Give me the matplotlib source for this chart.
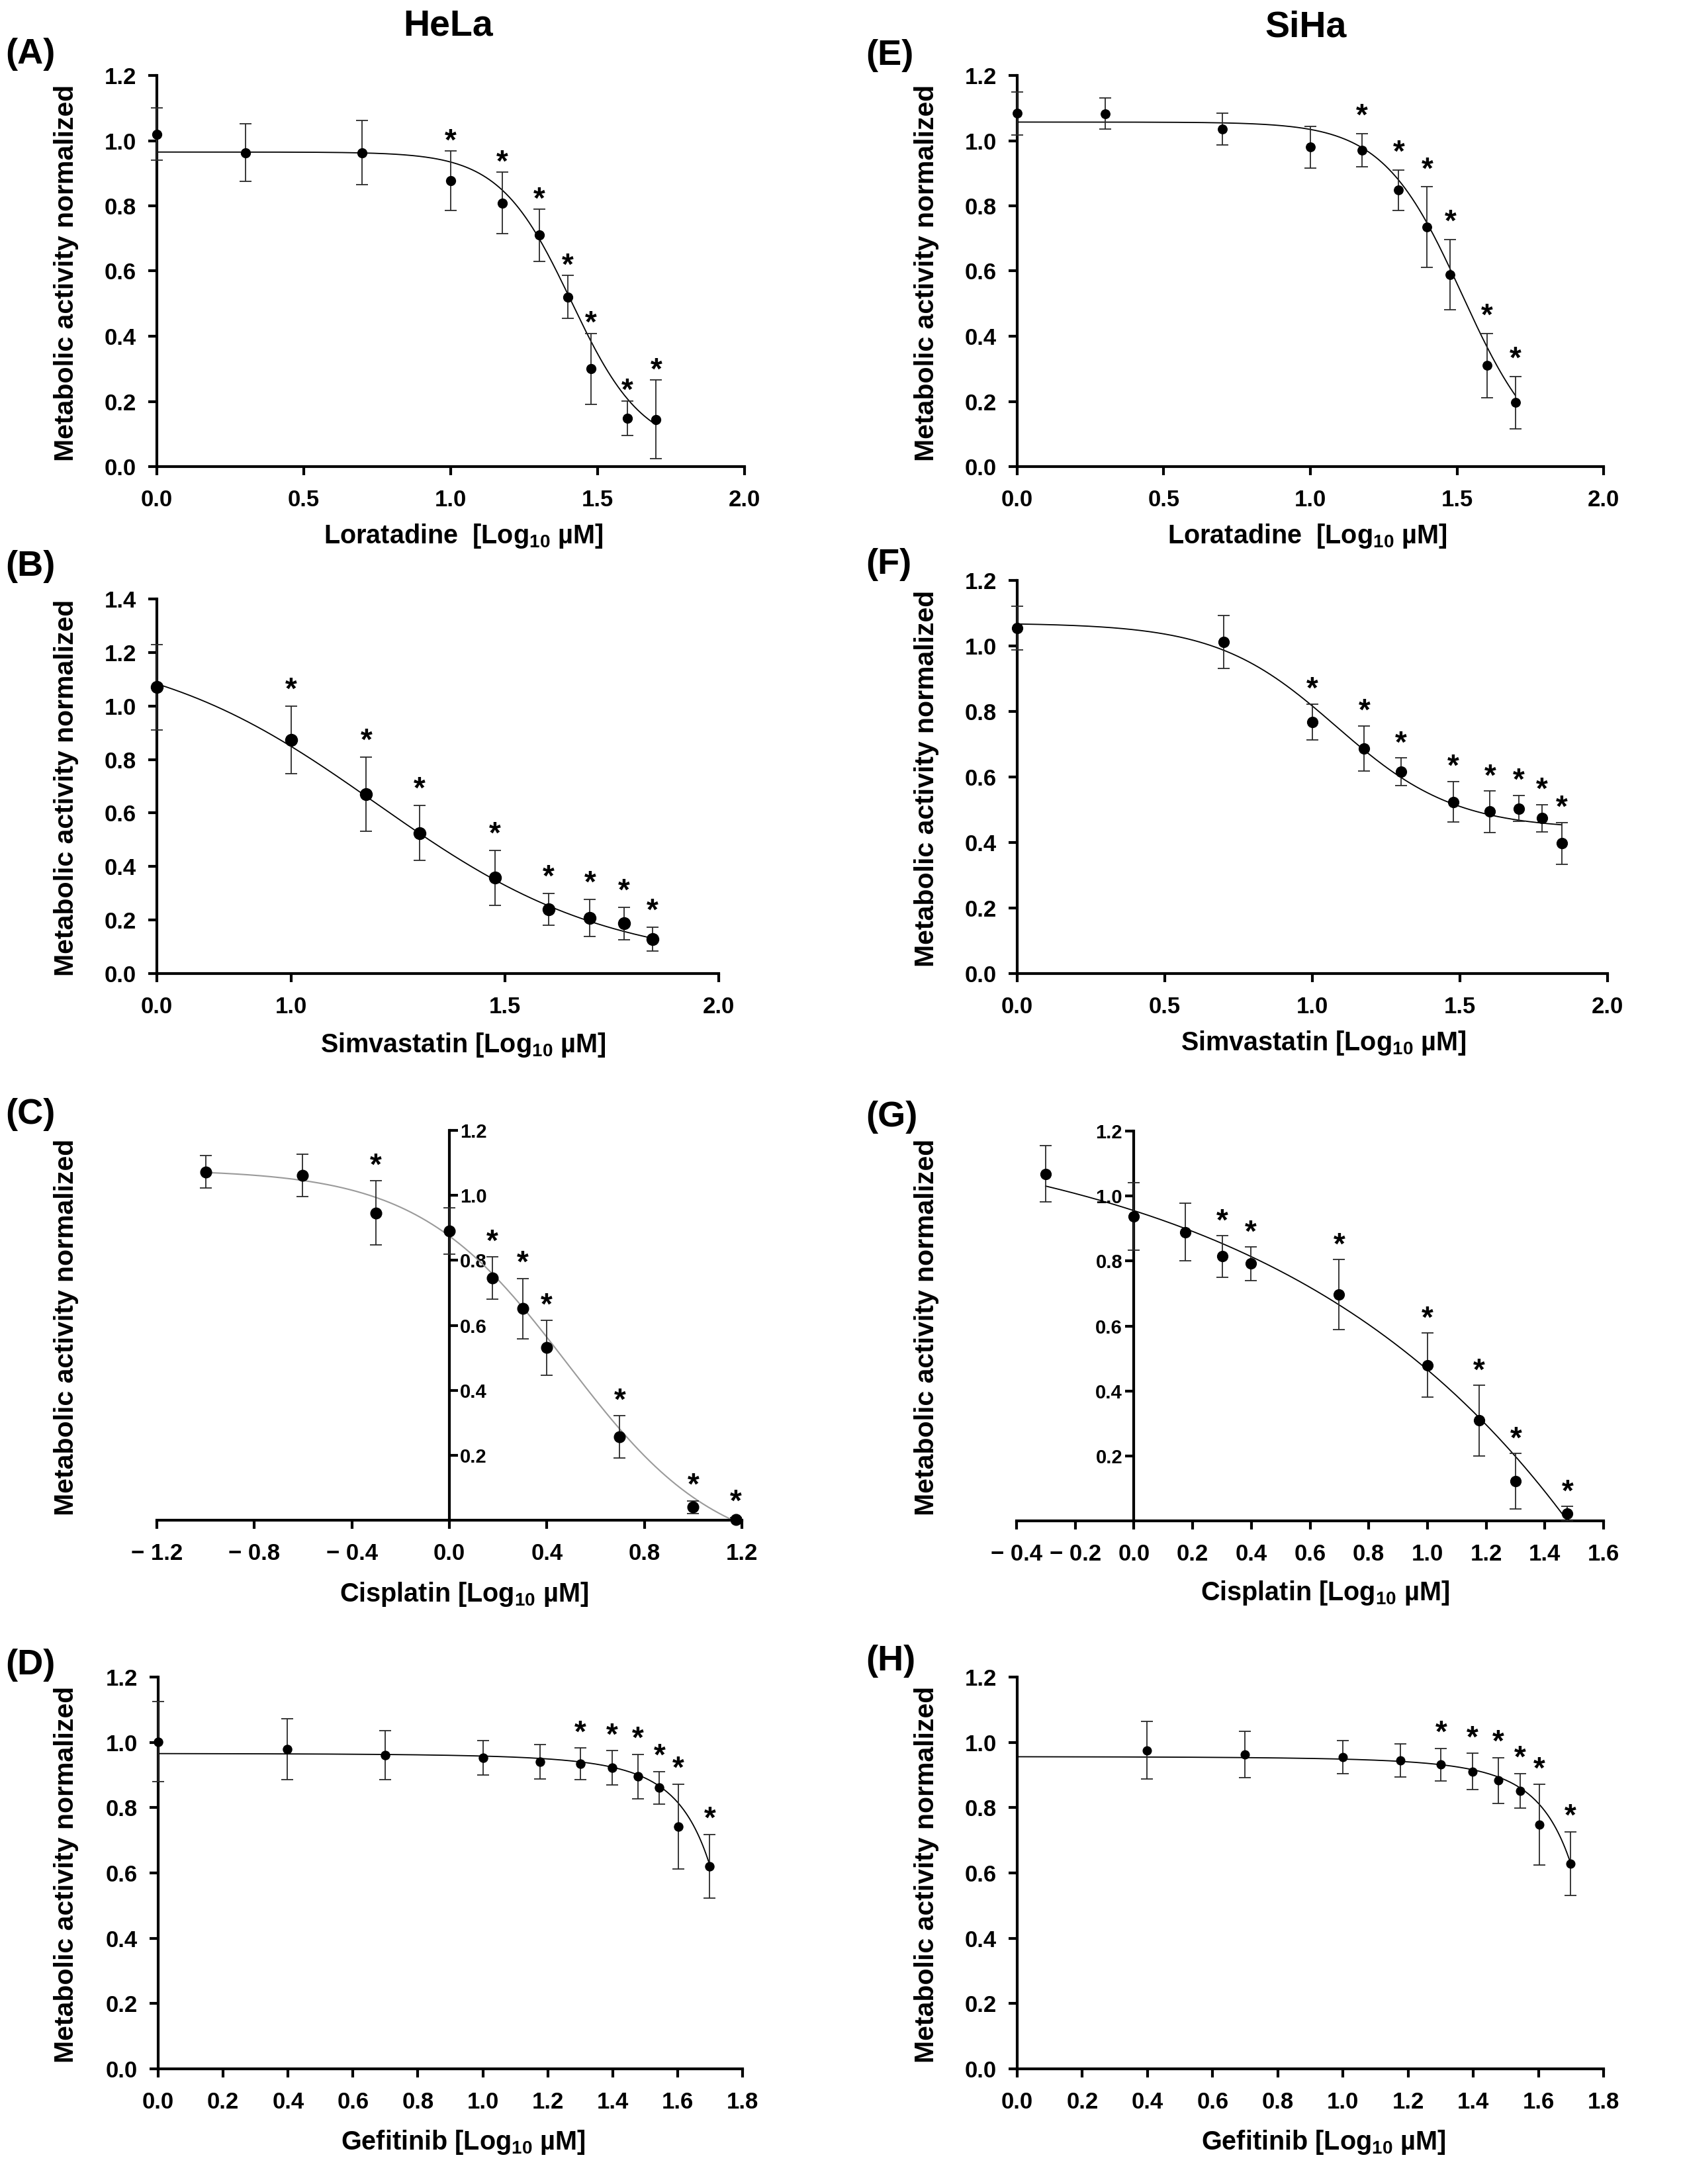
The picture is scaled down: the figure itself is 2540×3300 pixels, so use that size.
import numpy as np
import matplotlib
matplotlib.use("Agg")
import matplotlib.pyplot as plt
from matplotlib import font_manager as fm
from matplotlib.ticker import FixedLocator, FixedFormatter

# ---------------- data ----------------
# Loratadine (A: HeLa, E: SiHa)
lor_x = [0.0, 0.301, 0.699, 1.0, 1.176, 1.301, 1.398, 1.477, 1.602, 1.699]
A_y = [1.02, 0.963, 0.963, 0.877, 0.809, 0.71, 0.52, 0.30, 0.149, 0.145]
A_err = [0.08, 0.088, 0.098, 0.092, 0.095, 0.08, 0.066, 0.109, 0.053, 0.121]
A_star = [0, 0, 0, 1, 1, 1, 1, 1, 1, 1]
E_y = [1.084, 1.083, 1.035, 0.98, 0.971, 0.848, 0.735, 0.589, 0.31, 0.196]
E_err = [0.066, 0.047, 0.049, 0.064, 0.051, 0.062, 0.123, 0.107, 0.099, 0.081]
E_star = [0, 0, 0, 0, 1, 1, 1, 1, 1, 1]

# Simvastatin (B: HeLa, F: SiHa)
simB_x = [0.0, 1.0, 1.176, 1.301, 1.477, 1.602, 1.699, 1.778, 1.845]
B_y = [1.07, 0.873, 0.670, 0.525, 0.358, 0.240, 0.208, 0.187, 0.129]
B_err = [0.16, 0.127, 0.139, 0.103, 0.103, 0.06, 0.07, 0.06, 0.045]
B_star = [0, 1, 1, 1, 1, 1, 1, 1, 1]
simF_x = [0.0, 0.699, 1.0, 1.176, 1.301, 1.477, 1.602, 1.699, 1.778, 1.845]
F_y = [1.055, 1.012, 0.768, 0.687, 0.616, 0.524, 0.494, 0.504, 0.474, 0.397]
F_err = [0.067, 0.08, 0.055, 0.069, 0.042, 0.062, 0.063, 0.04, 0.041, 0.064]
F_star = [0, 0, 1, 1, 1, 1, 1, 1, 1, 1]

# Cisplatin (C: HeLa, G: SiHa)
cisC_x = [-1.0, -0.602, -0.301, 0.0, 0.176, 0.301, 0.398, 0.699, 1.0, 1.176]
C_y = [1.072, 1.061, 0.946, 0.89, 0.745, 0.651, 0.531, 0.257, 0.040, 0.003]
C_err = [0.05, 0.065, 0.099, 0.072, 0.065, 0.093, 0.084, 0.065, 0.02, 0.006]
C_star = [0, 0, 1, 0, 1, 1, 1, 1, 1, 1]
cisG_x = [-0.301, 0.0, 0.176, 0.301, 0.398, 0.699, 1.0, 1.176, 1.301, 1.477]
G_y = [1.068, 0.937, 0.889, 0.814, 0.792, 0.696, 0.479, 0.309, 0.122, 0.022]
G_err = [0.087, 0.104, 0.088, 0.064, 0.052, 0.108, 0.099, 0.109, 0.086, 0.022]
G_star = [0, 0, 0, 1, 1, 1, 1, 1, 1, 1]

# Gefitinib (D: HeLa, H: SiHa)
gefD_x = [0.0, 0.398, 0.699, 1.0, 1.176, 1.301, 1.398, 1.477, 1.544, 1.602, 1.699]
D_y = [1.002, 0.979, 0.961, 0.953, 0.94, 0.934, 0.922, 0.895, 0.861, 0.742, 0.62]
D_err = [0.122, 0.093, 0.075, 0.052, 0.053, 0.049, 0.053, 0.068, 0.05, 0.13, 0.098]
D_star = [0, 0, 0, 0, 0, 1, 1, 1, 1, 1, 1]
gefH_x = [0.398, 0.699, 1.0, 1.176, 1.301, 1.398, 1.477, 1.544, 1.602, 1.699]
H_y = [0.976, 0.962, 0.955, 0.945, 0.932, 0.911, 0.883, 0.852, 0.748, 0.629]
H_err = [0.089, 0.071, 0.05, 0.051, 0.05, 0.056, 0.07, 0.053, 0.123, 0.097]
H_star = [0, 0, 0, 0, 1, 1, 1, 1, 1, 1]

# fitted-curve parameters (top, bottom, logIC50, hill) or other model params
A_fit = [0.965, 0.05, 1.41, 3.56]
E_fit = [1.057, 0.0, 1.517, 3.21]
B_fit = [1.24, 0.03, 1.2, 1.607]     # in broken-axis coordinate
F_fit = [1.07, 0.44, 1.08, 2.15]
C_fit = [1.08, -0.12, 0.486, 1.41]
G_fit = [1.2534, 0.2984, 0.422]      # T - A * C**p
D_fit = [0.973, 0.00686, 0.0786]     # T - A * exp(k*C)
H_fit = [0.963, 0.00656, 0.0786]

xlab_lor = "Loratadine  [Log$_{10}$ µM]"
xlab_sim = "Simvastatin [Log$_{10}$ µM]"
xlab_cis = "Cisplatin [Log$_{10}$ µM]"
xlab_gef = "Gefitinib [Log$_{10}$ µM]"
ylab = "Metabolic activity normalized"
titles = ["HeLa", "SiHa"]

# ---------------- fonts ----------------
names = {f.name for f in fm.fontManager.ttflist}
FAM = "Liberation Sans" if "Liberation Sans" in names else "DejaVu Sans"
plt.rcParams["font.family"] = [FAM, "DejaVu Sans"]
plt.rcParams["font.weight"] = "bold"
plt.rcParams["mathtext.fontset"] = "custom"
plt.rcParams["mathtext.rm"] = FAM + ":bold"
plt.rcParams["mathtext.it"] = FAM + ":bold"
plt.rcParams["mathtext.bf"] = FAM + ":bold"
plt.rcParams["axes.unicode_minus"] = True

W, H = 2540, 3300
fig = plt.figure(figsize=(W / 100, H / 100), dpi=100)


def rect(l, t, r, b):
    return [l / W, 1 - b / H, (r - l) / W, (b - t) / H]


def ftext(x, y, s, **kw):
    fig.text(x / W, 1 - y / H, s, **kw)


def four_pl(x, p):
    top, bot, c, h = p
    x = np.asarray(x)
    return bot + (top - bot) / (1 + 10 ** (h * (x - c)))


SPINE_LW = 3.0
TICK_FS = 25


def style(ax, xlim, ylim, xticks, xticklabels, yticks, yticklabels):
    for s in ["top", "right"]:
        ax.spines[s].set_visible(False)
    for s in ["left", "bottom"]:
        ax.spines[s].set_linewidth(SPINE_LW)
    ax.set_xlim(*xlim)
    ax.set_ylim(*ylim)
    ax.xaxis.set_major_locator(FixedLocator(xticks))
    ax.xaxis.set_major_formatter(FixedFormatter(xticklabels))
    ax.yaxis.set_major_locator(FixedLocator(yticks))
    ax.yaxis.set_major_formatter(FixedFormatter(yticklabels))
    ax.xaxis.set_minor_locator(FixedLocator([]))
    ax.yaxis.set_minor_locator(FixedLocator([]))
    ax.tick_params(axis="both", direction="out", length=9.5, width=SPINE_LW,
                   labelsize=TICK_FS)
    ax.tick_params(axis="x", pad=15)
    ax.tick_params(axis="y", pad=13)
    for lab in ax.get_xticklabels() + ax.get_yticklabels():
        lab.set_fontweight("bold")


def points(ax, x, y, err, stars, ms, star_off):
    ax.errorbar(x, y, yerr=err, fmt="o", color="black", ms=ms,
                ecolor="#2a2a2a", elinewidth=1.3, capsize=6.5, capthick=1.3,
                clip_on=False, zorder=3)
    for xi, yi, ei, st in zip(x, y, err, stars):
        if st:
            ax.annotate("*", (xi, yi + ei), xytext=(0, star_off),
                        textcoords="offset points", ha="center", va="baseline",
                        fontsize=33, fontweight="bold", annotation_clip=False)


def fmt(vals, nd=1):
    out = []
    for v in vals:
        s = f"{abs(v):.{nd}f}"
        out.append(("\u2212 " + s) if v < -1e-9 else s)
    return out


# ---------------- panel A ----------------
axA = fig.add_axes(rect(237, 114, 1125, 705))
style(axA, (0, 2.0), (0, 1.2), [0, 0.5, 1.0, 1.5, 2.0], fmt([0, 0.5, 1.0, 1.5, 2.0]),
      np.arange(0, 1.21, 0.2), fmt(np.arange(0, 1.21, 0.2)))
xc = np.linspace(0, 1.699, 300)
axA.plot(xc, four_pl(xc, A_fit), color="black", lw=1.3, zorder=2)
points(axA, lor_x, A_y, A_err, A_star, 10, 1)

# ---------------- panel E ----------------
axE = fig.add_axes(rect(1537, 114, 2423, 705))
style(axE, (0, 2.0), (0, 1.2), [0, 0.5, 1.0, 1.5, 2.0], fmt([0, 0.5, 1.0, 1.5, 2.0]),
      np.arange(0, 1.21, 0.2), fmt(np.arange(0, 1.21, 0.2)))
axE.plot(xc, four_pl(xc, E_fit), color="black", lw=1.3, zorder=2)
points(axE, lor_x, E_y, E_err, E_star, 9.7, 9.5)

# ---------------- panel B (compressed 0-1 segment) ----------------
R = 0.3136


def fwd(x):
    x = np.asarray(x, dtype=float)
    return np.where(x < 1, 1 - (1 - x) * R, x)


def inv(u):
    u = np.asarray(u, dtype=float)
    return np.where(u < 1, 1 - (1 - u) / R, u)


axB = fig.add_axes(rect(237, 905, 1086, 1471))
axB.set_xscale("function", functions=(fwd, inv))
style(axB, (0, 2.0), (0, 1.4), [0, 1.0, 1.5, 2.0], fmt([0, 1.0, 1.5, 2.0]),
      np.arange(0, 1.41, 0.2), fmt(np.arange(0, 1.41, 0.2)))
uc = np.linspace(float(fwd(0.0)), float(fwd(1.845)), 300)
axB.plot(inv(uc), four_pl(uc, B_fit), color="black", lw=1.3, zorder=2)
points(axB, simB_x, B_y, B_err, B_star, 13, 8)

# ---------------- panel F ----------------
axF = fig.add_axes(rect(1537, 877, 2429, 1471))
style(axF, (0, 2.0), (0, 1.2), [0, 0.5, 1.0, 1.5, 2.0], fmt([0, 0.5, 1.0, 1.5, 2.0]),
      np.arange(0, 1.21, 0.2), fmt(np.arange(0, 1.21, 0.2)))
xf = np.linspace(0, 1.845, 300)
axF.plot(xf, four_pl(xf, F_fit), color="black", lw=1.3, zorder=2)
points(axF, simF_x, F_y, F_err, F_star, 11.4, 6.5)

# ---------------- panel C (y axis at x=0, labels on right) ----------------
axC = fig.add_axes(rect(237, 1708, 1121, 2297))
cx = [-1.2, -0.8, -0.4, 0.0, 0.4, 0.8, 1.2]
cy = [0.2, 0.4, 0.6, 0.8, 1.0, 1.2]
style(axC, (-1.2, 1.2), (0, 1.2), cx, fmt(cx), cy, fmt(cy))
axC.spines["left"].set_visible(False)
axC.spines["right"].set_visible(True)
axC.spines["right"].set_linewidth(SPINE_LW)
axC.spines["right"].set_position(("data", 0))
axC.yaxis.tick_right()
axC.tick_params(axis="y", direction="out", length=9.5, width=SPINE_LW,
                labelsize=21, pad=2)
xcc = np.linspace(-1.0, 1.17, 300)
axC.plot(xcc, four_pl(xcc, C_fit), color="#9a9a9a", lw=1.5, zorder=2)
points(axC, cisC_x, C_y, C_err, C_star, 12, 7)

# ---------------- panel G (y axis at x=0, labels on left) ----------------
axG = fig.add_axes(rect(1536, 1709, 2423, 2298))
gx = [-0.4, -0.2, 0.0, 0.2, 0.4, 0.6, 0.8, 1.0, 1.2, 1.4, 1.6]
style(axG, (-0.4, 1.6), (0, 1.2), gx, fmt(gx), cy, fmt(cy))
axG.spines["left"].set_position(("data", 0))
axG.tick_params(axis="y", labelsize=21, pad=3)
xg = np.linspace(-0.301, 1.477, 300)
axG.plot(xg, G_fit[0] - G_fit[1] * 10 ** (G_fit[2] * xg), color="black", lw=1.3, zorder=2)
points(axG, cisG_x, G_y, G_err, G_star, 11.4, 6)

# ---------------- panel D ----------------
dx = [0.0, 0.2, 0.4, 0.6, 0.8, 1.0, 1.2, 1.4, 1.6, 1.8]
axD = fig.add_axes(rect(239, 2534, 1122, 3126))
style(axD, (0, 1.8), (0, 1.2), dx, fmt(dx),
      np.arange(0, 1.21, 0.2), fmt(np.arange(0, 1.21, 0.2)))
xd = np.linspace(0, 1.699, 300)
axD.plot(xd, D_fit[0] - D_fit[1] * np.exp(D_fit[2] * 10 ** xd), color="black", lw=1.3, zorder=2)
points(axD, gefD_x, D_y, D_err, D_star, 9.4, 7)

# ---------------- panel H ----------------
axH = fig.add_axes(rect(1537, 2534, 2423, 3126))
style(axH, (0, 1.8), (0, 1.2), dx, fmt(dx),
      np.arange(0, 1.21, 0.2), fmt(np.arange(0, 1.21, 0.2)))
axH.plot(xd, H_fit[0] - H_fit[1] * np.exp(H_fit[2] * 10 ** xd), color="black", lw=1.3, zorder=2)
points(axH, gefH_x, H_y, H_err, H_star, 9.1, 7)

# ---------------- labels ----------------
XL_FS = 28.5
for (xc_, yc_, s) in [(700, 810, xlab_lor), (1975, 810, xlab_lor),
                      (700, 1579, xlab_sim), (2000, 1576, xlab_sim),
                      (701, 2409, xlab_cis), (2002, 2407, xlab_cis),
                      (700, 3237, xlab_gef), (2000, 3237, xlab_gef)]:
    ftext(xc_, yc_, s, ha="center", va="center", fontsize=XL_FS, fontweight="bold")

for (yc_) in [412, 1190, 2005, 2832]:
    ftext(100, yc_, ylab, rotation=90, ha="center", va="center", fontsize=29.5, fontweight="bold")
for (yc_) in [412, 1176, 2005, 2832]:
    ftext(1400, yc_, ylab, rotation=90, ha="center", va="center", fontsize=29.5, fontweight="bold")

for (xx, yy, s) in [(8, 82, "(A)"), (1308, 84, "(E)"), (8, 856, "(B)"), (1308, 853, "(F)"),
                    (8, 1684, "(C)"), (1308, 1688, "(G)"), (8, 2516, "(D)"), (1308, 2510, "(H)")]:
    ftext(xx, yy, s, ha="left", va="center", fontsize=39, fontweight="bold")

ftext(677, 39, titles[0], ha="center", va="center", fontsize=40, fontweight="bold")
ftext(1973, 41, titles[1], ha="center", va="center", fontsize=40, fontweight="bold")

fig.savefig("out.png", dpi=100, facecolor="white")
